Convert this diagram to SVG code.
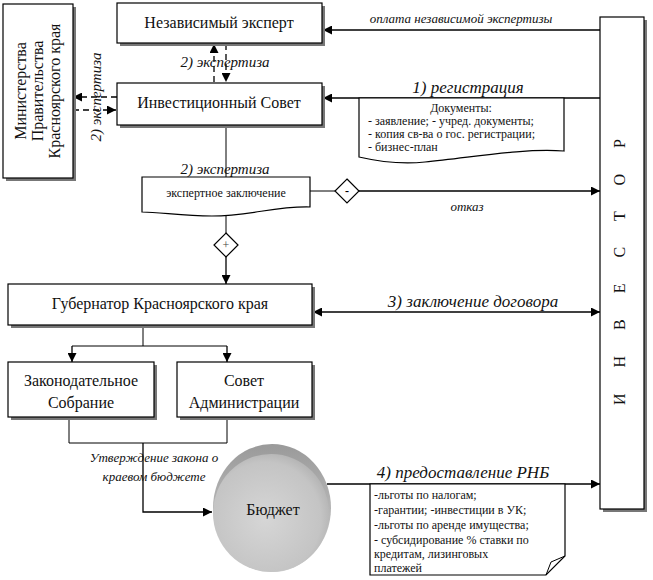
<svg xmlns="http://www.w3.org/2000/svg" width="653" height="580" viewBox="0 0 653 580">
<defs>
<style>
text{font-family:"Liberation Serif","Times New Roman","DejaVu Serif","Noto Serif",serif}
.box{fill:#fff;stroke:#000;stroke-width:1.2}
.sh{fill:#777}
.t{font-size:16px;fill:#111}
.ts{font-size:12px;fill:#111}
.lbl{font-style:italic;fill:#111}
.ln{fill:none;stroke:#000;stroke-width:1.3}
.thin{fill:none;stroke:#000;stroke-width:1}
.dash{fill:none;stroke:#000;stroke-width:1.3;stroke-dasharray:6,4}
</style>
<marker id="ar" viewBox="0 0 10 10" refX="10" refY="5" markerWidth="10" markerHeight="9" markerUnits="userSpaceOnUse" orient="auto-start-reverse">
<path d="M0,0 L10,5 L0,10 Z" fill="#000"/>
</marker>
<radialGradient id="cyl" cx="0.45" cy="0.55" r="0.6">
<stop offset="0" stop-color="#d6d6d6"/>
<stop offset="0.8" stop-color="#c4c4c4"/>
<stop offset="1" stop-color="#b0b0b0"/>
</radialGradient>
<linearGradient id="rim" x1="0" y1="0" x2="0" y2="1">
<stop offset="0" stop-color="#9a9a9a"/>
<stop offset="1" stop-color="#cfcfcf"/>
</linearGradient>
</defs>

<g id="connectors">
<line class="ln" x1="600" y1="30" x2="323" y2="30" marker-end="url(#ar)"/>
<text class="lbl" x="461" y="23" font-size="13" text-anchor="middle">оплата независимой экспертизы</text>
<line class="ln" x1="600" y1="98" x2="323" y2="98" marker-end="url(#ar)"/>
<text class="lbl" x="468" y="93" font-size="17" text-anchor="middle">1) регистрация</text>
<line class="dash" x1="214" y1="82" x2="214" y2="44" marker-end="url(#ar)"/>
<line class="dash" x1="226" y1="44" x2="226" y2="82" marker-end="url(#ar)"/>
<text class="lbl" x="225" y="67" font-size="15" text-anchor="middle">2) экспертиза</text>
<line class="dash" x1="117" y1="97" x2="73" y2="97" marker-end="url(#ar)"/>
<line class="dash" x1="73" y1="110" x2="116" y2="110" marker-end="url(#ar)"/>
<text class="lbl" transform="translate(101,97) rotate(-90)" font-size="15" text-anchor="middle">2) экспертиза</text>
<line class="thin" x1="226" y1="125" x2="226" y2="178"/>
<text class="lbl" x="225" y="174" font-size="15" text-anchor="middle">2) экспертиза</text>
<line class="thin" x1="310" y1="191" x2="335" y2="191"/>
<line class="ln" x1="359" y1="191" x2="600" y2="191" marker-end="url(#ar)"/>
<text class="lbl" x="467" y="211" font-size="13" text-anchor="middle">отказ</text>
<line class="thin" x1="226" y1="214" x2="226" y2="233"/>
<line class="ln" x1="226" y1="257" x2="226" y2="284" marker-end="url(#ar)"/>
<line class="ln" x1="313" y1="312" x2="600" y2="312" marker-start="url(#ar)" marker-end="url(#ar)"/>
<text class="lbl" x="473" y="307" font-size="17" text-anchor="middle">3) заключение договора</text>
<polyline class="thin" points="143,325 143,346"/>
<line class="thin" x1="72" y1="346" x2="227" y2="346"/>
<line class="ln" x1="72" y1="346" x2="72" y2="362" marker-end="url(#ar)"/>
<line class="ln" x1="227" y1="346" x2="227" y2="362" marker-end="url(#ar)"/>
<polyline class="thin" points="69,417 69,443 227,443 227,417"/>
<polyline class="ln" points="143,443 143,512 212,512" marker-end="url(#ar)"/>
<text class="lbl" x="154" y="462" font-size="13" text-anchor="middle">Утверждение закона о</text>
<text class="lbl" x="154" y="481" font-size="13" text-anchor="middle">краевом бюджете</text>
<line class="ln" x1="327" y1="484" x2="600" y2="484" marker-end="url(#ar)"/>
<text class="lbl" x="463" y="478" font-size="17" text-anchor="middle">4) предоставление РНБ</text>
</g>

<g id="node-ministries">
<rect class="sh" x="6" y="7" width="70" height="174"/>
<rect class="box" x="3" y="4" width="70" height="174"/>
<text class="t" text-anchor="middle" transform="translate(26,91) rotate(-90)">Министерства</text>
<text class="t" text-anchor="middle" transform="translate(43,91) rotate(-90)">Правительства</text>
<text class="t" text-anchor="middle" transform="translate(60,91) rotate(-90)">Красноярского края</text>
</g>

<g id="node-expert">
<rect class="sh" x="120" y="6" width="205" height="40"/>
<rect class="box" x="117" y="3" width="205" height="40"/>
<text class="t" x="219" y="28" text-anchor="middle">Независимый эксперт</text>
</g>

<g id="node-council">
<rect class="sh" x="120" y="86" width="205" height="42"/>
<rect class="box" x="117" y="83" width="205" height="42"/>
<text class="t" x="219" y="108" text-anchor="middle">Инвестиционный Совет</text>
</g>

<g id="node-documents">
<path class="box" d="M359,98 H564 V151 C520,148 470,158 425,162 C395,165 372,160 359,157 Z"/>
<text class="ts" x="461" y="112" text-anchor="middle">Документы:</text>
<text class="ts" x="368" y="125">- заявление; - учред. документы;</text>
<text class="ts" x="368" y="138">- копия св-ва о гос. регистрации;</text>
<text class="ts" x="368" y="151">- бизнес-план</text>
</g>

<g id="node-conclusion">
<path class="box" d="M142,177 H310 V207 C275,206 250,216 212,216 C182,216 160,212 142,212 Z"/>
<text x="226" y="197" text-anchor="middle" font-size="12" fill="#111">экспертное заключение</text>
</g>

<g id="node-minus">
<path class="box" d="M347,179 L359,191 L347,203 L335,191 Z"/>
<text x="347" y="195" text-anchor="middle" font-size="12" font-weight="bold" fill="#000">-</text>
</g>

<g id="node-plus">
<path class="box" d="M226,233 L238,245 L226,257 L214,245 Z"/>
<text x="226" y="249" text-anchor="middle" font-size="12" fill="#444">+</text>
</g>

<g id="node-governor">
<rect class="sh" x="11" y="287" width="304" height="41"/>
<rect class="box" x="8" y="284" width="304" height="41"/>
<text class="t" x="160" y="309" text-anchor="middle">Губернатор Красноярского края</text>
</g>

<g id="node-assembly">
<rect class="sh" x="11" y="365" width="146" height="55"/>
<rect class="box" x="8" y="362" width="146" height="55"/>
<text class="t" x="81" y="386" text-anchor="middle">Законодательное</text>
<text class="t" x="81" y="408" text-anchor="middle">Собрание</text>
</g>

<g id="node-admin">
<rect class="sh" x="180" y="365" width="135" height="55"/>
<rect class="box" x="177" y="362" width="135" height="55"/>
<text class="t" x="244" y="386" text-anchor="middle">Совет</text>
<text class="t" x="244" y="408" text-anchor="middle">Администрации</text>
</g>

<g id="node-budget">
<ellipse cx="272" cy="508" rx="59" ry="64" fill="url(#rim)"/>
<ellipse cx="271" cy="513" rx="58" ry="59" fill="url(#cyl)"/>
<text class="t" x="273" y="515" text-anchor="middle">Бюджет</text>
</g>

<g id="node-benefits">
<path class="box" d="M370,484 H565 V556 L546,575 H370 Z"/>
<path class="thin" d="M546,575 L551,562 L565,556"/>
<text class="ts" x="374" y="499">-льготы по налогам;</text>
<text class="ts" x="374" y="514">-гарантии; -инвестиции в УК;</text>
<text class="ts" x="374" y="529">-льготы по аренде имущества;</text>
<text class="ts" x="374" y="544">- субсидирование % ставки по</text>
<text class="ts" x="374" y="558">кредитам, лизинговых</text>
<text class="ts" x="374" y="572">платежей</text>
</g>

<g id="node-investor">
<rect class="sh" x="603" y="20" width="44" height="492"/>
<rect class="box" x="600" y="17" width="44" height="492"/>
<text class="t" font-size="18" transform="translate(625,405) rotate(-90)" textLength="266" lengthAdjust="spacing">ИНВЕСТОР</text>
</g>
</svg>
